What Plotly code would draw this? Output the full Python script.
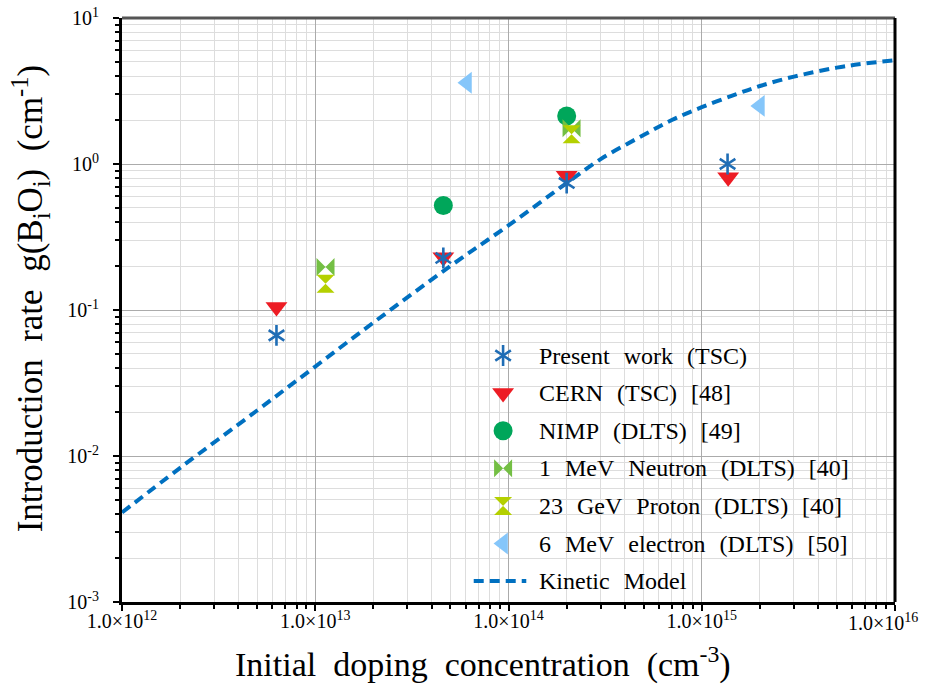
import plotly.graph_objects as go

# ---- measured introduction rates g(BiOi) vs initial doping ----
present_N = [6.3e12, 4.6e13, 2.0e14, 1.36e15]
present_g = [0.067, 0.227, 0.74, 1.0]

cern_N = [6.3e12, 4.6e13, 2.0e14, 1.37e15]
cern_g = [0.105, 0.23, 0.83, 0.81]

nimp_N = [4.6e13, 2.0e14]
nimp_g = [0.52, 2.13]

neutron_N = [1.13e13, 2.12e14]
neutron_g = [0.197, 1.76]

proton_N = [1.13e13, 2.12e14]
proton_g = [0.151, 1.6]

electron_N = [6.1e13, 2.0e15]
electron_g = [3.6, 2.5]

# ---- kinetic model curve ----
model_N = [1e12, 2e12, 5e12, 1e13, 2e13, 5e13, 1e14, 2e14, 3e14, 5e14,
           7e14, 1e15, 1.5e15, 2e15, 3e15, 5e15, 7e15, 1e16]
model_g = [0.0041, 0.0083, 0.0205, 0.041, 0.082, 0.2, 0.38, 0.74, 1.08, 1.58,
           2.0, 2.45, 3.0, 3.42, 3.97, 4.57, 4.88, 5.13]

# ---- axis ticks ----
x_tickvals = [1e12, 1e13, 1e14, 1e15, 1e16]
x_ticktext = ["1.0×10<sup>12</sup>", "1.0×10<sup>13</sup>", "1.0×10<sup>14</sup>",
              "1.0×10<sup>15</sup>", ""]
x_last_label = "1.0×10<sup>16</sup>"
y_tickvals = [1e-3, 1e-2, 1e-1, 1e0, 1e1]
y_ticktext = ["10<sup>-3</sup>", "10<sup>-2</sup>", "10<sup>-1</sup>",
              "10<sup>0</sup>", "10<sup>1</sup>"]

legend_labels = [
    "Present work (TSC)",
    "CERN (TSC) [48]",
    "NIMP (DLTS) [49]",
    "1 MeV Neutron (DLTS) [40]",
    "23 GeV Proton (DLTS) [40]",
    "6 MeV electron (DLTS) [50]",
    "Kinetic Model",
]

SERIF = "Liberation Serif"
BLUE_STAR = "#1F6DB5"
RED = "#ED1C24"
GREEN = "#00A65A"
NEUTRON = "#74BF44"
PROTON = "#B4D000"
ELECTRON = "#85C6FA"
MODEL = "#0070C0"

WIDE = "\u00a0\u00a0\u200a"   # generous word spacing
WIDE2 = "\u00a0\u00a0"

fig = go.Figure()

# model curve
fig.add_trace(go.Scatter(x=model_N, y=model_g, mode="lines", line_shape="spline",
                         line=dict(color=MODEL, width=4, dash="10px,6px"),
                         hoverinfo="skip"))


def markers(x, y, symbol, color, size, xa="x", ya="y"):
    return go.Scatter(x=x, y=y, mode="markers", xaxis=xa, yaxis=ya,
                      marker=dict(symbol=symbol, color=color, size=size,
                                  line=dict(width=0)))


def star(x, y, xa="x", ya="y"):
    # six-armed asterisk built from two opposing Y glyphs
    out = []
    for sym in ("y-up-open", "y-down-open"):
        out.append(go.Scatter(x=x, y=y, mode="markers", xaxis=xa, yaxis=ya,
                              marker=dict(symbol=sym, size=13, color=BLUE_STAR,
                                          line=dict(color=BLUE_STAR, width=2.6))))
    return out


fig.add_trace(markers(electron_N, electron_g, "triangle-left", ELECTRON, 19))
fig.add_trace(markers(nimp_N, nimp_g, "circle", GREEN, 19))
fig.add_trace(markers(neutron_N, neutron_g, "bowtie", NEUTRON, 18))
fig.add_trace(markers(proton_N, proton_g, "hourglass", PROTON, 18))
fig.add_trace(markers(cern_N, cern_g, "triangle-down", RED, 19))
for t in star(present_N, present_g):
    fig.add_trace(t)

# ---- legend drawn on a unit overlay axis ----
row_px = [355.5 + 37.6 * i for i in range(7)]
row_y = [(602 - r) / 584 for r in row_px]
mx = 0.493
for t in star([mx], [row_y[0]], "x2", "y2"):
    fig.add_trace(t)
fig.add_trace(markers([mx], [row_y[1]], "triangle-down", RED, 19, "x2", "y2"))
fig.add_trace(markers([mx], [row_y[2]], "circle", GREEN, 19, "x2", "y2"))
fig.add_trace(markers([mx], [row_y[3]], "bowtie", NEUTRON, 18, "x2", "y2"))
fig.add_trace(markers([mx], [row_y[4]], "hourglass", PROTON, 18, "x2", "y2"))
fig.add_trace(markers([mx], [row_y[5]], "triangle-left", ELECTRON, 19, "x2", "y2"))
fig.add_trace(go.Scatter(x=[0.455, 0.523], y=[row_y[6], row_y[6]], mode="lines",
                         xaxis="x2", yaxis="y2",
                         line=dict(color=MODEL, width=4, dash="10px,6px")))

annotations = []
for lab, yy in zip(legend_labels, row_y):
    annotations.append(dict(x=0.537, y=yy, xref="x2", yref="y2", text=lab.replace(" ", WIDE),
                            showarrow=False, xanchor="left", yanchor="middle",
                            font=dict(family=SERIF, size=24, color="black")))

# last x tick label, pulled in so it stays on the page
annotations.append(dict(x=1, y=0, xref="paper", yref="paper", text=x_last_label,
                        showarrow=False, xanchor="center", yanchor="top",
                        xshift=-12, yshift=-6,
                        font=dict(family=SERIF, size=20, color="black")))

# axis titles
annotations.append(dict(x=0.467, y=-0.103, xref="paper", yref="paper",
                        text="Initial doping concentration (cm<sup>-3</sup>)".replace(" ", WIDE2),
                        showarrow=False, xanchor="center", yanchor="middle",
                        font=dict(family=SERIF, size=34, color="black")))
annotations.append(dict(x=-0.119, y=0.52, xref="paper", yref="paper", textangle=-90,
                        text="Introduction rate g(B<sub>i</sub>O<sub>i</sub>) (cm<sup>-1</sup>)".replace(" ", WIDE2),
                        showarrow=False, xanchor="center", yanchor="middle",
                        font=dict(family=SERIF, size=35, color="black")))

minor_x = [k * 10 ** e for e in range(12, 16) for k in range(2, 10)]
minor_y = [k * 10.0 ** e for e in range(-3, 1) for k in range(2, 10)]

fig.update_layout(
    width=928, height=685,
    margin=dict(l=122, r=33, t=18, b=83, autoexpand=False),
    paper_bgcolor="white", plot_bgcolor="white",
    showlegend=False,
    annotations=annotations,
    xaxis=dict(type="log", range=[11.99999, 16.00001], tickvals=x_tickvals, ticktext=x_ticktext,
               tickfont=dict(family=SERIF, size=20, color="black"),
               ticklabelstandoff=-7, automargin=False,
               showline=True, linecolor="black", linewidth=3,
               ticks="outside", ticklen=6, tickwidth=2, tickcolor="black",
               showgrid=True, gridcolor="#ABABAB", gridwidth=1, zeroline=False,
               minor=dict(tickvals=minor_x, ticks="outside", ticklen=4, tickwidth=2,
                          tickcolor="black", showgrid=True, gridcolor="#DDDDDD", gridwidth=1)),
    yaxis=dict(type="log", range=[-3.00001, 1.00001], tickvals=y_tickvals, ticktext=y_ticktext,
               tickfont=dict(family=SERIF, size=20, color="black"),
               ticklabeloverflow="allow", automargin=False,
               showline=True, linecolor="black", linewidth=3,
               ticks="outside", ticklen=6, tickwidth=2, tickcolor="black",
               ticklabelstandoff=10,
               showgrid=True, gridcolor="#ABABAB", gridwidth=1, zeroline=False,
               minor=dict(tickvals=minor_y, ticks="outside", ticklen=4, tickwidth=2,
                          tickcolor="black", showgrid=True, gridcolor="#DDDDDD", gridwidth=1)),
    xaxis2=dict(overlaying="x", range=[0, 1], visible=False, fixedrange=True),
    yaxis2=dict(overlaying="y", range=[0, 1], visible=False, fixedrange=True),
    shapes=[
        dict(type="line", xref="paper", yref="paper", x0=0, x1=1, y0=1, y1=1,
             line=dict(color="#555555", width=3)),
        dict(type="line", xref="paper", yref="paper", x0=1, x1=1, y0=0, y1=1,
             line=dict(color="black", width=3)),
    ],
)

fig.write_html("out.html")
